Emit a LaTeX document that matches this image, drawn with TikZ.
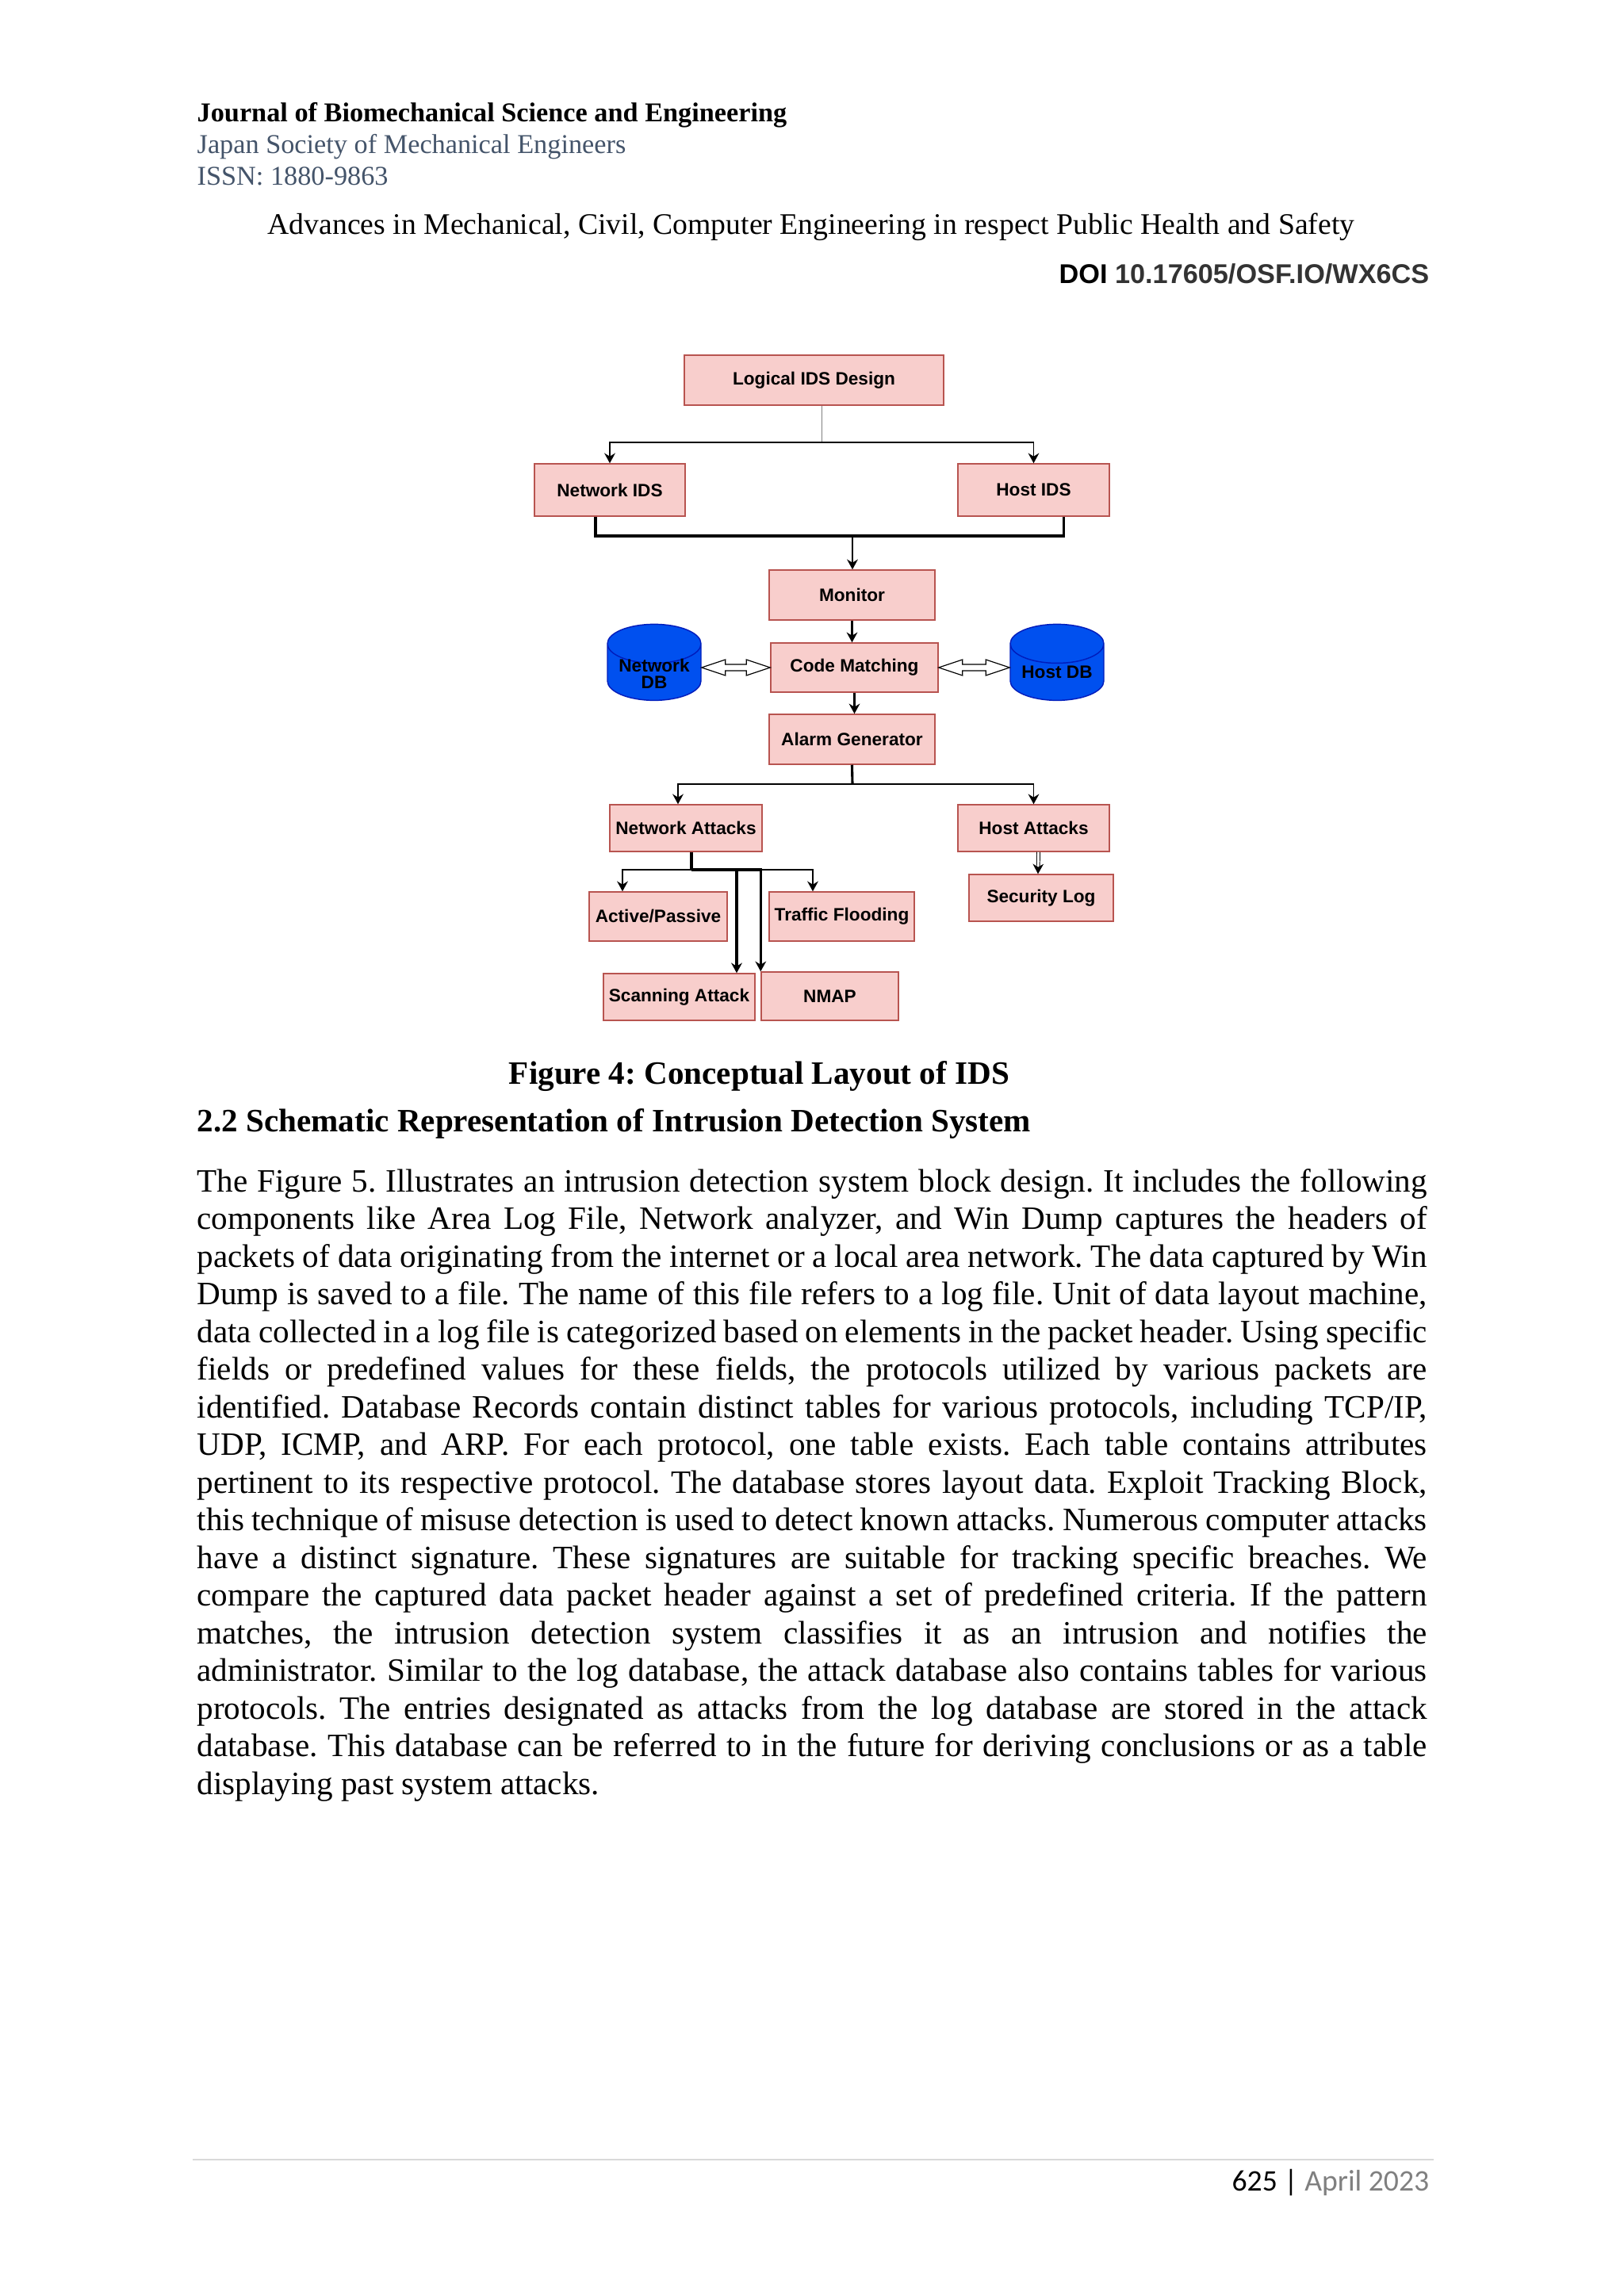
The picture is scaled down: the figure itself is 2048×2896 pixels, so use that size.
\documentclass[tikz,border=0pt]{standalone}
\usepackage{fontspec}
\setmainfont{Liberation Serif}
\setsansfont{Liberation Sans}
\newfontfamily\calibri{Carlito}
\usepackage{xcolor}
\usepackage{tikz}
\usetikzlibrary{shapes.geometric}
\usetikzlibrary{arrows.meta}
\usetikzlibrary{calc}

\definecolor{boxfill}{HTML}{F8CECC}
\definecolor{boxline}{HTML}{B85450}
\definecolor{dbfill}{HTML}{0050EF}
\definecolor{dbline}{HTML}{001DBC}
\definecolor{pubgray}{HTML}{44546A}
\definecolor{rulegray}{HTML}{D9D9D9}
\definecolor{doigray}{HTML}{333333}

% one pixel of the page
\newdimen\ppx \ppx=0.10254mm

\tikzset{
  idsbox/.style={draw=boxline, fill=boxfill, line width=0.15mm, inner sep=0pt,
    font=\sffamily\bfseries\fontsize{6.6}{7.6}\selectfont},
  dbcyl/.style={cylinder, shape border rotate=90, aspect=0.55, draw=dbline, fill=dbfill,
    line width=0.15mm, inner sep=0pt,
    font=\sffamily\bfseries\fontsize{6.6}{7.6}\selectfont},
  link/.style={line width=0.2mm, -{Stealth[length=1.3mm,width=1.4mm]}},
  boldlink/.style={line width=0.32mm},
  hollow/.style={draw=black, fill=white, line width=0.12mm},
  pagetxt/.style={inner sep=0pt, anchor=base west},
  bodytxt/.style={pagetxt, font=\fontsize{12}{13.8}\selectfont}
}

% hollow arrow with a head at both ends
\newcommand\hollowpair[2]{%
  \draw[hollow] let \p1=(#1), \p2=(#2), \n1={\x2-\x1-60*\ppx} in
    (\p1) -- ++(30,-10) -- ++(0,6) -- ++(\n1,0pt) -- ++(0,-6) -- ++(30,10)
    -- ++(-30,10) -- ++(0,-6) -- ++(-\n1,0pt) -- ++(0,6) -- cycle;}

\begin{document}
\frenchspacing
\begin{tikzpicture}[x=0.10254mm, y=-0.10254mm]
  \fill[white] (0,0) rectangle (2048,2896);
  \useasboundingbox (0,0) rectangle (2048,2896);

  % page head
  \node[pagetxt, font=\bfseries\fontsize{10}{11.5}\selectfont] (journal) at (248,153)
    {Journal of Biomechanical Science and Engineering};
  \node[pagetxt, text=pubgray, font=\fontsize{10}{11.5}\selectfont] (society) at (248,193)
    {Japan Society of Mechanical Engineers};
  \node[pagetxt, text=pubgray, font=\fontsize{10}{11.5}\selectfont] (issn) at (248,233)
    {ISSN: 1880-9863};
  \node[pagetxt, font=\fontsize{11}{13}\selectfont] (series) at (337,295)
    {Advances in Mechanical, Civil, Computer Engineering in respect Public Health and Safety};
  \node[inner sep=0pt, anchor=base east, font=\sffamily\bfseries\fontsize{10}{12}\selectfont] (doi)
    at (1803,357) {DOI \textcolor{doigray}{10.17605/OSF.IO/WX6CS}};

  % the figure
  \node[idsbox, minimum width=327*\ppx, minimum height=63*\ppx] (lids) at (1026.5,479.5) {Logical IDS Design};
  \node[idsbox, minimum width=190*\ppx, minimum height=66*\ppx] (nids) at (769,618) {Network IDS};
  \node[idsbox, minimum width=191*\ppx, minimum height=66*\ppx] (hids) at (1303.5,618) {Host IDS};
  \node[idsbox, minimum width=209*\ppx, minimum height=63*\ppx] (mon) at (1074.5,750.5) {Monitor};
  \node[idsbox, minimum width=211*\ppx, minimum height=62*\ppx] (cm) at (1077.5,842) {Code Matching};
  \node[idsbox, minimum width=209*\ppx, minimum height=63*\ppx] (alarm) at (1074.5,932.5) {Alarm Generator};
  \node[dbcyl, minimum width=118*\ppx, minimum height=96*\ppx] (ndb) at (825,848)
    {\raisebox{-2.05mm}[0pt][0pt]{\shortstack{Network\\[-1.6pt]DB}}};
  \node[dbcyl, minimum width=118*\ppx, minimum height=96*\ppx] (hdb) at (1333,848) {Host DB};
  \node[idsbox, minimum width=192*\ppx, minimum height=59*\ppx] (natt) at (865,1044.5) {Network Attacks};
  \node[idsbox, minimum width=191*\ppx, minimum height=59*\ppx] (hatt) at (1303.5,1044.5) {Host Attacks};
  \node[idsbox, minimum width=182*\ppx, minimum height=59*\ppx] (seclog) at (1313,1132.5) {Security Log};
  \node[idsbox, minimum width=174*\ppx, minimum height=62*\ppx] (actpas) at (830,1156) {Active/Passive};
  \node[idsbox, minimum width=183*\ppx, minimum height=62*\ppx] (traffic) at (1061.5,1156) {Traffic Flooding};
  \node[idsbox, minimum width=191*\ppx, minimum height=59*\ppx] (scan) at (856.5,1257.5) {Scanning Attack};
  \node[idsbox, minimum width=173*\ppx, minimum height=61*\ppx] (nmap) at (1046.5,1256.5) {NMAP};

  \coordinate (split1) at (1036,558);
  \coordinate (join1) at (1075,676);
  \coordinate (split2) at (1075,989);
  \coordinate (split3) at (872,1097);

  \draw[gray, line width=0.1mm] (lids.south -| split1) -- (split1);
  \draw[link] (split1) -| (nids.north);
  \draw[link] (split1) -| (hids.north);
  \draw[boldlink] ($(nids.south)+(-18,0)$) |- (join1) -| ($(hids.south)+(38,0)$);
  \draw[link] (join1) -- (join1 |- mon.north);
  \draw[link, boldlink] (mon.south) -- (mon.south |- cm.north);
  \draw[link, boldlink] (cm.south) -- (cm.south |- alarm.north);
  \hollowpair{cm.west -| ndb.0}{cm.west}
  \hollowpair{cm.east}{cm.east -| hdb.180}
  \draw[boldlink] (alarm.south) -- (split2);
  \draw[link] (split2) -| ($(natt.north)+(-10,0)$);
  \draw[link] (split2) -| (hatt.north);
  \draw[line width=0.1mm, double, double distance=0.3mm, -{Stealth[length=1.3mm,width=1.4mm]}]
    ($(hatt.south)+(6,0)$) -- ($(seclog.north)+(-4,0)$);
  \draw[boldlink] (natt.south -| split3) -- (split3);
  \draw[link] (split3) -| ($(actpas.north)+(-45,0)$);
  \draw[link] (split3) -| ($(traffic.north)+(-36.5,0)$);
  \draw[link, boldlink] (split3) -| ($(scan.north)+(72.5,0)$);
  \draw[link, boldlink] (split3) -| (nmap.north west);

  % caption and text
  \node[inner sep=0pt, anchor=base, font=\bfseries\fontsize{12}{14}\selectfont] (caption)
    at (957.5,1367) {Figure 4: Conceptual Layout of IDS};
  \node[pagetxt, font=\bfseries\fontsize{12}{14}\selectfont] (section) at (248,1427)
    {2.2 Schematic Representation of Intrusion Detection System};
  \foreach \ln [count=\i] in {
    {The Figure 5. Illustrates an intrusion detection system block design. It includes the following},
    {components like Area Log File, Network analyzer, and Win Dump captures the headers of},
    {packets of data originating from the internet or a local area network. The data captured by Win},
    {Dump is saved to a file. The name of this file refers to a log file. Unit of data layout machine,},
    {data collected in a log file is categorized based on elements in the packet header. Using specific},
    {fields or predefined values for these fields, the protocols utilized by various packets are},
    {identified. Database Records contain distinct tables for various protocols, including TCP/IP,},
    {UDP, ICMP, and ARP. For each protocol, one table exists. Each table contains attributes},
    {pertinent to its respective protocol. The database stores layout data. Exploit Tracking Block,},
    {this technique of misuse detection is used to detect known attacks. Numerous computer attacks},
    {have a distinct signature. These signatures are suitable for tracking specific breaches. We},
    {compare the captured data packet header against a set of predefined criteria. If the pattern},
    {matches, the intrusion detection system classifies it as an intrusion and notifies the},
    {administrator. Similar to the log database, the attack database also contains tables for various},
    {protocols. The entries designated as attacks from the log database are stored in the attack},
    {database. This database can be referred to in the future for deriving conclusions or as a table}}
    \node[bodytxt] (line\i) at (248,{1503+(\i-1)*47.5}) {\makebox[1551\ppx][s]{\ln}};
  \node[bodytxt] (line17) at (248,2263) {displaying past system attacks.};

  % page foot
  \draw[rulegray, line width=0.2mm] (243,2724) -- (1808,2724);
  \node[inner sep=0pt, anchor=base east, font=\calibri\fontsize{11}{13}\selectfont] (pageno)
    at (1803,2763) {625 | \textcolor{gray}{April 2023}};
\end{tikzpicture}
\end{document}
